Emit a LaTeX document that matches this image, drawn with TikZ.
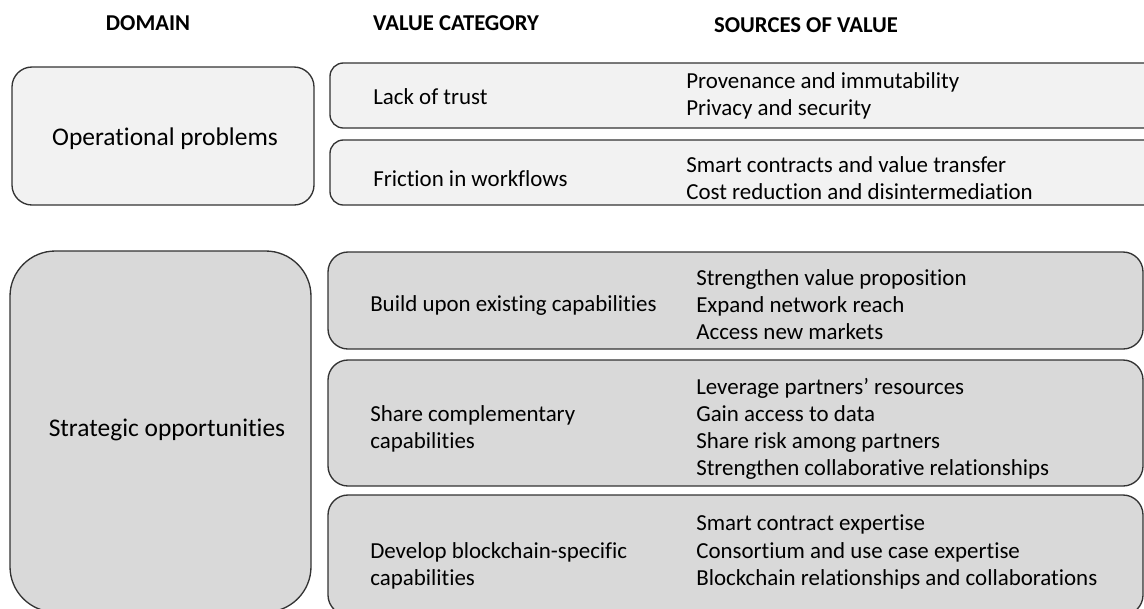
\documentclass[tikz,border=0pt]{standalone}
\usepackage{fontspec}
\setmainfont[RawFeature={-liga}]{Carlito}
\definecolor{lightfill}{HTML}{F2F2F2}
\definecolor{darkfill}{HTML}{D9D9D9}
\definecolor{edge}{HTML}{333333}
\tikzset{
  x=0.75pt, y=-0.75pt,
  boxline/.style={draw=edge, line width=1pt},
  opbox/.style={boxline, fill=lightfill},
  stbox/.style={boxline, fill=darkfill},
  hdr/.style={font=\fontsize{17pt}{20pt}\selectfont\bfseries, inner sep=0pt},
  dom/.style={font=\fontsize{19.1pt}{22pt}\selectfont, inner sep=0pt},
  txt/.style={font=\fontsize{17.2pt}{20.3pt}\selectfont, inner sep=0pt, anchor=west, align=left},
}
\begin{document}
\begin{tikzpicture}
\useasboundingbox (0,0) rectangle (1144,608);
\begin{scope}
\clip (0,0) rectangle (1144,608);
% operational
\draw[opbox, rounded corners=15pt] (12,67) rectangle (314,205);
\draw[opbox, rounded corners=10pt] (330,63) rectangle (1170,128);
\draw[opbox, rounded corners=10pt] (330,140) rectangle (1170,205);
% strategic
\draw[stbox, rounded corners=34pt] (10,251) rectangle (311,612);
\draw[stbox, rounded corners=15pt] (328,252) rectangle (1143,349);
\draw[stbox, rounded corners=15pt] (328,360) rectangle (1143,486);
\draw[stbox, rounded corners=15pt] (328,495) rectangle (1143,615);
\end{scope}
% headers
\node[hdr] (h1) at (148,23) {DOMAIN};
\node[hdr] (h2) at (456,23) {VALUE CATEGORY};
\node[hdr] (h3) at (806,25) {SOURCES OF VALUE};
% domain labels
\node[dom] (op) at (165,139) {Operational problems};
\node[dom] (so) at (167,430) {Strategic opportunities};
% value categories
\node[txt] (c1) at (373,97) {Lack of trust};
\node[txt] (c2) at (373,179) {Friction in workflows};
\node[txt] (c3) at (370,305) {Build upon existing capabilities};
\node[txt] (c4) at (370,429) {Share complementary\\capabilities};
\node[txt] (c5) at (370,566) {Develop blockchain-specific\\capabilities};
% sources
\node[txt] (s1) at (686,96) {Provenance and immutability\\Privacy and security};
\node[txt] (s2) at (686,178) {Smart contracts and value transfer\\Cost reduction and disintermediation};
\node[txt] (s3) at (696,305) {Strengthen value proposition\\Expand network reach\\Access new markets};
\node[txt] (s4) at (696,429) {Leverage partners’ resources\\Gain access to data\\Share risk among partners\\Strengthen collaborative relationships};
\node[txt] (s5) at (696,552) {Smart contract expertise\\Consortium and use case expertise\\Blockchain relationships and collaborations};
\end{tikzpicture}
\end{document}
